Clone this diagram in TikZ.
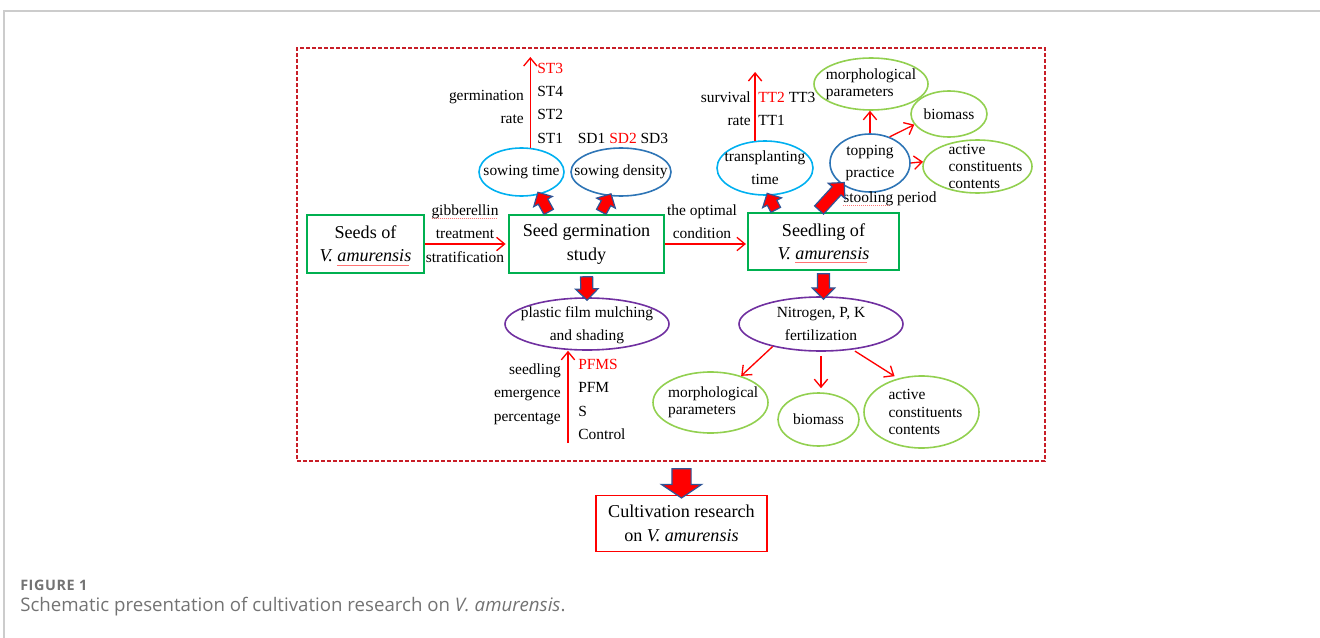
\documentclass[tikz,border=0pt]{standalone}
\usepackage{fontspec}
\setmainfont{Liberation Serif}
\newfontfamily\capfont{Open Sans}
\usetikzlibrary{arrows.meta, calc, shapes.geometric, shapes.arrows}

\definecolor{boxgreen}{RGB}{0,176,80}
\definecolor{lightblue}{RGB}{0,176,240}
\definecolor{darkblue}{RGB}{46,117,182}
\definecolor{leafgreen}{RGB}{146,208,80}
\definecolor{fertpurple}{RGB}{112,48,160}
\definecolor{arrowblue}{RGB}{47,85,151}
\definecolor{framered}{RGB}{200,30,40}
\definecolor{cardgray}{RGB}{204,204,204}
\definecolor{capgray}{RGB}{115,115,115}

\newcommand\boxfont{\fontsize{13.6}{17.5}\selectfont}
\newcommand\labfont{\fontsize{11.6}{17.5}\selectfont}
\newcommand\ovalfont{\fontsize{11.6}{17}\selectfont}
\newcommand\greenfont{\fontsize{11.6}{13}\selectfont}
\newsavebox\spellbox
\newcommand\spellmark[1]{\sbox\spellbox{#1}\rlap{\raisebox{-0.45ex}[0pt][0pt]{\color{red!55}\hbox to \wd\spellbox{\leaders\hbox{\rule{0.8pt}{0.6pt}\kern0.7pt}\hfill}}}\usebox\spellbox}

\tikzset{
  stage/.style={draw=boxgreen, line width=1.1pt, align=center, font=\boxfont, inner sep=0pt},
  oval/.style={ellipse, draw=#1, line width=1.2pt, inner sep=0pt},
  olab/.style={align=center, font=\ovalfont, inner sep=0pt},
  glab/.style={align=left, font=\greenfont, inner sep=0pt},
  lab/.style={font=\labfont, inner sep=0pt},
  thinarr/.style={draw=red, line width=1pt, -{Straight Barb[length=6pt, width=10pt]}},
  fatbase/.style={single arrow, draw=arrowblue, fill=red, line width=0.9pt, inner xsep=0pt, single arrow head indent=0pt, minimum width=0pt},
  smallfat/.style={fatbase, inner ysep=3.6pt, single arrow head extend=3.9pt},
  midfat/.style={fatbase, inner ysep=4.1pt, single arrow head extend=3.9pt},
  bigfat/.style={fatbase, inner ysep=6.75pt, single arrow head extend=7.9pt, single arrow tip angle=112},
}

\newcommand\fatarrow[3][smallfat]{%
  \path let \p1=($(#3)-(#2)$), \n1={atan2(\y1,\x1)}, \n2={veclen(\x1,\y1)} in
    node[#1, minimum height=\n2, rotate=\n1] at ($(#2)!0.5!(#3)$) {};}

\begin{document}
\begin{tikzpicture}[x=0.75pt, y=-0.75pt]
  \useasboundingbox (0,0) rectangle (1320,638);
  \draw[cardgray, line width=1pt] (4,638) -- (4,11) -- (1320,11);
  \node[draw=framered, dash pattern=on 3pt off 1.5pt, line width=0.8pt, minimum width=561pt, minimum height=309.75pt, inner sep=0pt] (frame) at (671,254.5) {};

  \node[stage, minimum width=87.75pt, minimum height=43.5pt] (seeds) at (365.5,244) {Seeds of\\\textit{V. \spellmark{amurensis}}};
  \node[stage, minimum width=116.25pt, minimum height=43.5pt] (germ) at (586.5,244) {Seed germination\\study};
  \node[stage, minimum width=113.25pt, minimum height=42.75pt] (seedling) at (823.5,241.5) {Seedling of\\\textit{V. \spellmark{amurensis}}};
  \node[stage, draw=red, minimum width=128.25pt, minimum height=42pt] (cult) at (681.5,523.5) {Cultivation research\\on \textit{V. amurensis}};

  \node[oval=lightblue, minimum width=63.75pt, minimum height=36pt, label={[olab]center:{sowing time}}] (stime) at (521.5,172) {};
  \node[oval=darkblue, minimum width=75pt, minimum height=36pt, label={[olab]center:{sowing density}}] (sdens) at (621,172) {};
  \node[oval=lightblue, minimum width=72pt, minimum height=40.5pt, label={[olab]center:{transplanting\\time}}] (ttime) at (765,168) {};
  \node[oval=darkblue, minimum width=60pt, minimum height=43.5pt, label={[olab]center:{topping\\practice}}] (topping) at (870,163) {};
  \node[oval=leafgreen, minimum width=85.5pt, minimum height=39pt, label={[glab]center:{morphological\\parameters}}] (morphT) at (871,84) {};
  \node[oval=leafgreen, minimum width=57pt, minimum height=34.5pt, label={[olab]center:{biomass}}] (bioT) at (949,114) {};
  \node[oval=leafgreen, minimum width=81.75pt, minimum height=39.75pt, label={[glab, xshift=6pt]center:{active\\constituents\\contents}}] (activeT) at (977.5,166.5) {};
  \node[oval=fertpurple, minimum width=123pt, minimum height=39pt, label={[olab, yshift=-1pt]center:{plastic film mulching\\and shading}}] (plastic) at (587,324) {};
  \node[oval=fertpurple, minimum width=123pt, minimum height=40.5pt, label={[olab]center:{Nitrogen, P, K\\fertilization}}] (nitro) at (821,324) {};
  \node[oval=leafgreen, minimum width=86.25pt, minimum height=45.75pt, label={[glab, xshift=2pt]center:{morphological\\parameters}}] (morphB) at (710.5,402.5) {};
  \node[oval=leafgreen, minimum width=60.75pt, minimum height=39.75pt, label={[olab]center:{biomass}}] (bioB) at (818.5,419.5) {};
  \node[oval=leafgreen, minimum width=86.25pt, minimum height=54pt, label={[glab, xshift=3pt]center:{active\\constituents\\contents}}] (activeB) at (921.5,412) {};

  \node[lab, align=center] (gibb) at (465,233.5) {\spellmark{gibberellin}\\treatment\\stratification};
  \node[lab, align=center] (optim) at (702,222) {the optimal\\condition};
  \node[lab, align=left, anchor=west] (stlist) at (537,103) {\textcolor{red}{ST3}\\ST4\\ST2\\ST1};
  \node[lab, align=right, anchor=east] (strate) at (524,107) {germination\\rate};
  \node[lab] (sdlist) at (623,138) {SD1 \textcolor{red}{SD2} SD3};
  \node[lab, align=left, anchor=west] (ttlist) at (758,109) {\textcolor{red}{TT2} TT3\\TT1};
  \node[lab, align=right, anchor=east] (ttrate) at (751,109) {survival\\rate};
  \node[lab] (stool) at (890,199) {\spellmark{stooling} period};
  \node[lab, align=right, anchor=east] (emerg) at (561,394) {seedling\\emergence\\percentage};
  \node[lab, align=left, anchor=west] (pflist) at (578,399.5) {\textcolor{red}{PFMS}\\PFM\\S\\Control};

  \coordinate (sttip) at (531,57);
  \coordinate (tttip) at (755,72);
  \coordinate (pfbase) at (568,443);
  \draw[thinarr] (stime.70) -- (stime.70 |- sttip);
  \draw[thinarr] (ttime.110) -- (ttime.110 |- tttip);
  \draw[thinarr] (pfbase) -- (pfbase |- plastic.south);
  \draw[thinarr, shorten >=2pt] (seeds) -- (germ);
  \draw[thinarr, shorten >=1pt] (germ.east) -- (germ.east -| seedling.west);
  \draw[thinarr] (topping.north) -- (topping.north |- morphT.south);
  \draw[thinarr] (topping.53) -- (bioT.197);
  \draw[thinarr] (topping.east) -- (activeT.175);
  \draw[thinarr] (nitro.205) -- (morphB.41);
  \draw[thinarr, shorten <=3pt, shorten >=3pt] (nitro.south) -- (nitro.south |- bioB.north);
  \draw[thinarr, shorten <=2pt, shorten >=3pt] (nitro.-39) -- (activeB.125);

  \coordinate (a1) at ($(germ.north)+(-36.5,0)$);
  \coordinate (a2) at ($(germ.north)+(13.5,0)$);
  \coordinate (a3) at ($(seedling.north)+(-46.5,0)$);
  \coordinate (a4) at ($(seedling.north)+(-6.5,0)$);
  \coordinate (a5) at ($(frame.south -| cult.north)+(0,4)$);
  \fatarrow{a1}{stime.-52}
  \fatarrow{a2}{sdens.245}
  \fatarrow{a3}{ttime.-83}
  \fatarrow[midfat]{a4}{topping.218}
  \fatarrow[midfat]{germ.south}{plastic.north}
  \fatarrow[midfat]{seedling.south}{seedling.south |- nitro.north}
  \fatarrow[bigfat]{a5}{cult.north}

  \node[font=\capfont\bfseries\fontsize{10.8}{12}\selectfont\addfontfeatures{LetterSpace=4}, text=capgray, anchor=west, inner sep=0pt] (fig) at (20,585) {FIGURE 1};
  \node[font=\capfont\fontsize{14}{16}\selectfont, text=capgray, anchor=west, inner sep=0pt] (caption) at (20,607) {Schematic presentation of cultivation research on \textit{V. amurensis}.};
\end{tikzpicture}
\end{document}
